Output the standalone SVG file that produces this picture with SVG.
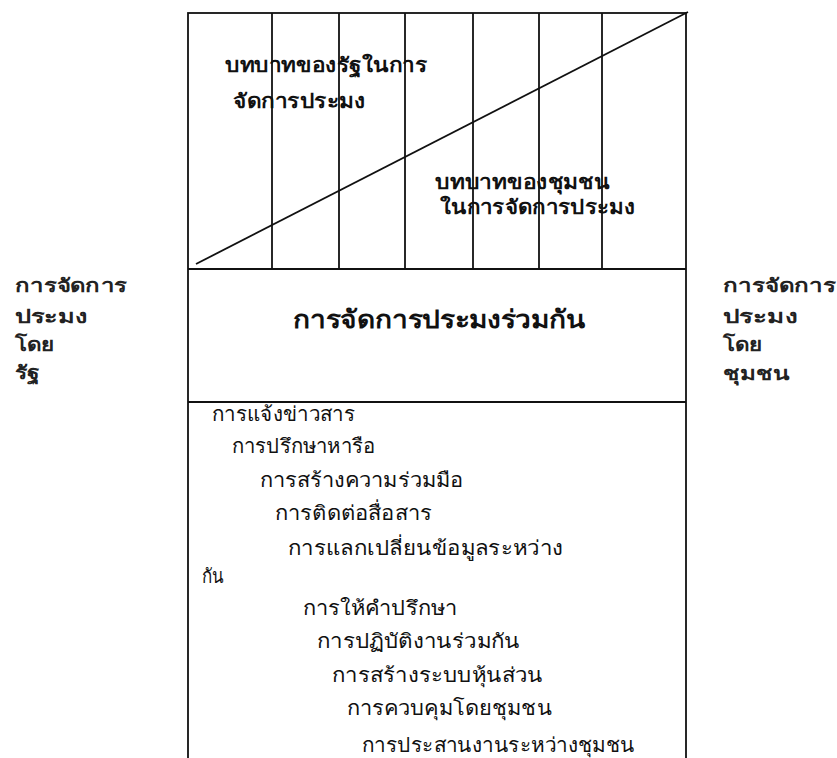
<svg xmlns="http://www.w3.org/2000/svg" width="837" height="758" viewBox="0 0 837 758">
<style>
.ln{stroke:#111;stroke-width:1.8;fill:none}
.b{font-family:"Noto Sans","DejaVu Sans",sans-serif;font-weight:bold;font-size:20px;fill:#111}
.s{font-family:"Noto Sans","DejaVu Sans",sans-serif;font-weight:bold;font-size:19px;fill:#222}
.m{font-family:"Noto Sans","DejaVu Sans",sans-serif;font-weight:bold;font-size:25px;fill:#111}
.r{font-family:"Noto Sans","DejaVu Sans",sans-serif;font-size:20px;fill:#111}
</style>
<rect width="837" height="758" fill="#fff"/>
<g id="frame">
<rect class="ln" x="188" y="13" width="498" height="760"/>
<line class="ln" x1="188" y1="269" x2="686" y2="269"/>
<line class="ln" x1="188" y1="402" x2="686" y2="402"/>
</g>
<g id="connectors">
<line class="ln" x1="272" y1="13" x2="272" y2="269"/>
<line class="ln" x1="339" y1="13" x2="339" y2="269"/>
<line class="ln" x1="405" y1="13" x2="405" y2="269"/>
<line class="ln" x1="473" y1="13" x2="473" y2="269"/>
<line class="ln" x1="539" y1="13" x2="539" y2="269"/>
<line class="ln" x1="602" y1="13" x2="602" y2="269"/>
<line class="ln" x1="196" y1="264" x2="688" y2="12"/>
</g>
<g id="state-role">
<text class="b" x="225" y="72" textLength="202" lengthAdjust="spacingAndGlyphs">บทบาทของรัฐในการ</text>
<text class="b" x="233" y="108" textLength="132" lengthAdjust="spacingAndGlyphs">จัดการประมง</text>
</g>
<g id="community-role">
<text class="b" x="435" y="189" textLength="175" lengthAdjust="spacingAndGlyphs">บทบาทของชุมชน</text>
<text class="b" x="440" y="214" textLength="195" lengthAdjust="spacingAndGlyphs">ในการจัดการประมง</text>
</g>
<g id="co-management">
<text class="m" x="293" y="328" textLength="292" lengthAdjust="spacingAndGlyphs">การจัดการประมงร่วมกัน</text>
</g>
<g id="state-label">
<text class="s" x="15" y="292" textLength="112" lengthAdjust="spacingAndGlyphs">การจัดการ</text>
<text class="s" x="15" y="323" textLength="72" lengthAdjust="spacingAndGlyphs">ประมง</text>
<text class="s" x="15" y="351" textLength="39" lengthAdjust="spacingAndGlyphs">โดย</text>
<text class="s" x="15" y="379" textLength="24" lengthAdjust="spacingAndGlyphs">รัฐ</text>
</g>
<g id="community-label">
<text class="s" x="723" y="292" textLength="113" lengthAdjust="spacingAndGlyphs">การจัดการ</text>
<text class="s" x="723" y="323" textLength="74" lengthAdjust="spacingAndGlyphs">ประมง</text>
<text class="s" x="723" y="351" textLength="39" lengthAdjust="spacingAndGlyphs">โดย</text>
<text class="s" x="723" y="380" textLength="66" lengthAdjust="spacingAndGlyphs">ชุมชน</text>
</g>
<g id="activities">
<text class="r" x="212" y="421" textLength="143" lengthAdjust="spacingAndGlyphs">การแจ้งข่าวสาร</text>
<text class="r" x="232" y="453" textLength="143" lengthAdjust="spacingAndGlyphs">การปรึกษาหารือ</text>
<text class="r" x="260" y="487" textLength="203" lengthAdjust="spacingAndGlyphs">การสร้างความร่วมมือ</text>
<text class="r" x="275" y="520" textLength="157" lengthAdjust="spacingAndGlyphs">การติดต่อสื่อสาร</text>
<text class="r" x="288" y="555" textLength="275" lengthAdjust="spacingAndGlyphs">การแลกเปลี่ยนข้อมูลระหว่าง</text>
<text class="r" x="202" y="583" textLength="22" lengthAdjust="spacingAndGlyphs">กัน</text>
<text class="r" x="303" y="615" textLength="154" lengthAdjust="spacingAndGlyphs">การให้คำปรึกษา</text>
<text class="r" x="317" y="648" textLength="203" lengthAdjust="spacingAndGlyphs">การปฏิบัติงานร่วมกัน</text>
<text class="r" x="332" y="682" textLength="211" lengthAdjust="spacingAndGlyphs">การสร้างระบบหุ้นส่วน</text>
<text class="r" x="347" y="715" textLength="205" lengthAdjust="spacingAndGlyphs">การควบคุมโดยชุมชน</text>
<text class="r" x="362" y="752" textLength="273" lengthAdjust="spacingAndGlyphs">การประสานงานระหว่างชุมชน</text>
</g>
</svg>
